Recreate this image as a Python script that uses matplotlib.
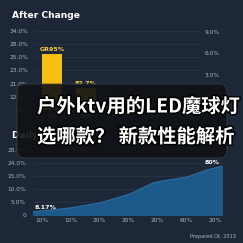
import matplotlib
matplotlib.use("Agg")
import matplotlib.pyplot as plt
import matplotlib.patheffects as pe
from matplotlib.patches import FancyBboxPatch

# top chart (bars)
bar_cats = ["265", "C&P", "", "Lvl", "Cast"]
bar_vals = [4.25, 1.65, 0, 0, 0]
bar_labels = ["GR95%", "82.7%"]
top_left_ticks = ["0%", "12.0%", "21.0%", "23.0%", "25.0%", "28.0%", "34.0%"]
top_right_vals = [0, 3, 6, 9]
top_right_ticks = ["0%", "3.0%", "6.0%", "9.0%"]

# bottom chart (area)
area_x = [-0.31, 0.97, 2.0, 3.06, 3.85, 4.2, 5.03, 5.73, 6.25]
area_y = [1.2, 2.7, 4.6, 8.1, 12.3, 13.1, 14.6, 17.3, 18.8]
bot_xticks = ["10%", "10%", "20%", "20%", "20%", "60%", "20%"]
bot_yticks = ["0", "5.0%", "10.0%", "15.0%", "24.0%", "28.0%"]

bg = "#1d2737"
grid_c = "#283345"
tick_c = "#aab3c0"

fig = plt.figure(figsize=(2.43, 2.43), dpi=100)
fig.patch.set_facecolor(bg)

def style(ax):
    ax.set_facecolor(bg)
    for s in ax.spines.values():
        s.set_visible(False)
    ax.tick_params(length=0, colors=tick_c, labelsize=4.2)

# --- top: After Change
ax1 = fig.add_axes([35/243, 1-110/243, 165/243, 79/243])
style(ax1)
xs = range(len(bar_cats))
ax1.bar(xs, bar_vals, width=0.59, color="#f7bf12", zorder=2)
ax1.set_xlim(-0.5, 4.35)
ax1.set_ylim(0, 6)
ax1.set_yticks(range(7))
ax1.set_yticklabels(top_left_ticks)
ax1.set_xticks(list(xs))
ax1.set_xticklabels(bar_cats)
ax1.tick_params(axis="y", pad=5)
ax1.tick_params(axis="x", pad=3)
ax1.grid(axis="y", color=grid_c, lw=0.6, zorder=0)
for i, t in enumerate(bar_labels):
    ax1.annotate(t, (i, bar_vals[i]), xytext=(0, 1.5), textcoords="offset points",
                 ha="center", va="bottom", fontsize=4.5, color="#f7cf3a", fontweight="bold")

ax1r = ax1.twinx()
ax1r.set_ylim(-1.97, 9.14)
ax1r.set_yticks(top_right_vals)
ax1r.set_yticklabels(top_right_ticks)
for s in ax1r.spines.values():
    s.set_visible(False)
ax1r.tick_params(length=0, colors=tick_c, labelsize=4.2, pad=3)

fig.text(12/243, 1-16/243, "After Change", fontsize=6.6, fontweight="bold",
         color="white", va="center", ha="left")

# --- bottom: Daily
ax2 = fig.add_axes([33/243, 1-215/243, 189/243, 65/243])
style(ax2)
ax2.fill_between(area_x, area_y, color="#1d5a8a", zorder=2)
ax2.plot(area_x, area_y, color="#2b6fa3", lw=0.8, zorder=3)
ax2.set_xlim(-0.31, 6.25)
ax2.set_ylim(0, 25)
ax2.set_yticks(range(0, 30, 5))
ax2.set_yticklabels(bot_yticks)
ax2.set_xticks(range(7))
ax2.set_xticklabels(bot_xticks)
ax2.tick_params(axis="y", pad=5)
ax2.tick_params(axis="x", pad=2)
ax2.grid(axis="y", color=grid_c, lw=0.6, zorder=0)
ax2.annotate("8.17%", (area_x[0], area_y[0]), xytext=(1, 1), textcoords="offset points",
             ha="left", va="bottom", fontsize=4.5, color="white", fontweight="bold")
ax2.annotate("80%", (area_x[-1], area_y[-1]), xytext=(-2, 0.5), textcoords="offset points",
             ha="right", va="bottom", fontsize=4.5, color="white", fontweight="bold")

fig.text(12/243, 1-135/243, "Daily Change", fontsize=6.6, fontweight="bold",
         color="white", va="center", ha="left")
fig.text(236/243, 1-236/243, "Prepared Ot. 2013", fontsize=3.6, color="#aab3c0",
         ha="right", va="center")

# overlay box with headline
box = FancyBboxPatch((17/243, 1-158/243), 210/243, 74/243,
                     boxstyle="round,pad=0,rounding_size=0.03",
                     transform=fig.transFigure, facecolor="#0f1114", alpha=0.9,
                     edgecolor="#3b4049", lw=0.6, zorder=10)
fig.patches.append(box)

fx = [pe.withStroke(linewidth=2.2, foreground="#000000")]
fig.text(37/243, 1-107/243, "户外ktv用的LED魔球灯", fontsize=13.9, fontweight="bold",
         color="white", family=["Noto Sans CJK SC", "DejaVu Sans"],
         va="center", ha="left", zorder=11, path_effects=fx)
fig.text(37/243, 1-137/243, "选哪款？ 新款性能解析", fontsize=13.9, fontweight="bold",
         color="white", family=["Noto Sans CJK SC", "DejaVu Sans"],
         va="center", ha="left", zorder=11, path_effects=fx)

fig.savefig("out.png", dpi=100, facecolor=fig.get_facecolor())
